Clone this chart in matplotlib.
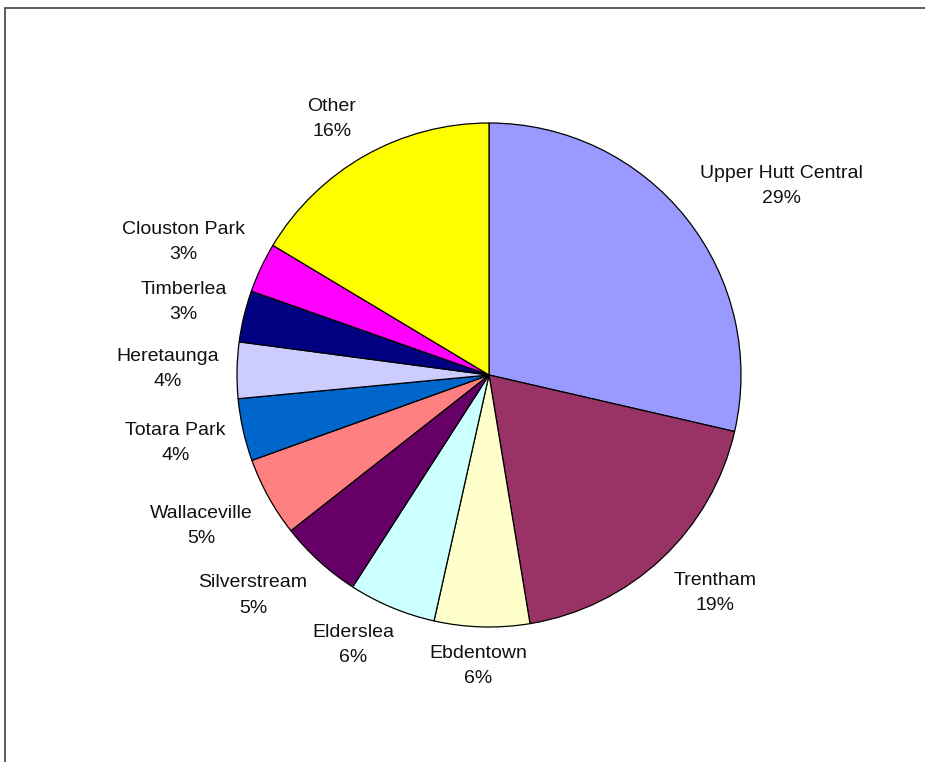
import numpy as np
import matplotlib
matplotlib.use("Agg")
import matplotlib.pyplot as plt

# share of each suburb (percent)
suburbs = ["Upper Hutt Central", "Trentham", "Ebdentown", "Elderslea",
           "Silverstream", "Wallaceville", "Totara Park", "Heretaunga",
           "Timberlea", "Clouston Park", "Other"]
shares = [28.6, 18.8, 6.1, 5.6, 5.3, 5.1, 4.0, 3.6, 3.3, 3.2, 16.4]
colours = ["#9999FF", "#993366", "#FFFFCC", "#CCFFFF", "#660066", "#FF8080",
           "#0066CC", "#CCCCFF", "#000080", "#FF00FF", "#FFFF00"]

plt.rcParams['font.family'] = ['Liberation Sans', 'DejaVu Sans']

W, H = 925, 762
fig = plt.figure(figsize=(W / 100, H / 100), dpi=100)
ax = fig.add_axes([0, 0, 1, 1])

cx, cy, r = 489, H - 375, 252
wedges, _ = ax.pie(shares, colors=colours, startangle=90, counterclock=False,
                   center=(cx, cy), radius=r,
                   wedgeprops=dict(edgecolor="black", linewidth=0.9))
ax.set_xlim(0, W)
ax.set_ylim(0, H)
ax.set_aspect("auto")
ax.axis("off")

# chart frame (left and top edges)
ax.plot([4.5, 4.5, W], [0, H - 7.5, H - 7.5], color="#404040", lw=1.2,
        solid_joinstyle="miter", clip_on=False)

total = sum(shares)
texts = []
for w, name, v in zip(wedges, suburbs, shares):
    mid = np.deg2rad((w.theta1 + w.theta2) / 2)
    ux, uy = np.cos(mid), np.sin(mid)
    x0, y0 = cx + 1.07 * r * ux, cy + 1.07 * r * uy
    t = ax.text(x0, y0, f"{name}\n{v / total * 100:.0f}%", fontsize=14,
                ha="center", va="center", multialignment="center",
                linespacing=1.65, color="#111111")
    texts.append((t, ux, uy, x0, y0))

# push each label out so its nearest edge sits on the anchor point
fig.canvas.draw()
rend = fig.canvas.get_renderer()
for t, ux, uy, x0, y0 in texts:
    bb = t.get_window_extent(rend)
    fx = np.clip(2 * ux, -1, 1)
    fy = np.clip(2 * uy, -1, 1)
    t.set_position((x0 + bb.width / 2 * fx, y0 + bb.height / 2 * fy))

fig.savefig("out.png", dpi=100, facecolor="white")
